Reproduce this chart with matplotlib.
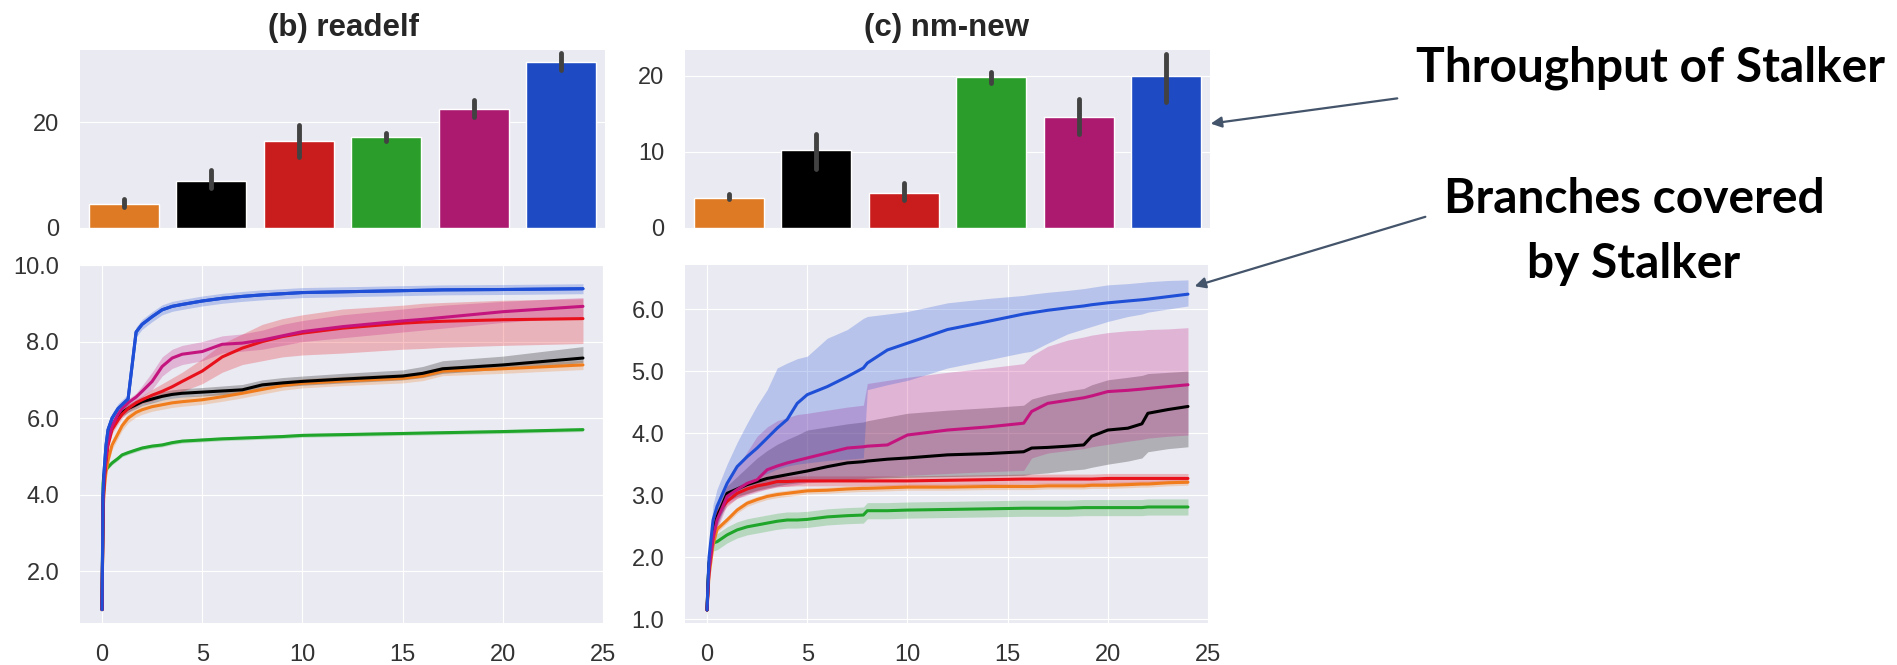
import numpy as np
import matplotlib.pyplot as plt
import seaborn as sns

sns.set_style("darkgrid")
plt.rcParams['font.family'] = ['Liberation Sans', 'DejaVu Sans']

W, H = 1897, 665

# ---- bar data (throughput) ----
bar_colors = ['#de7a23', '#000000', '#c91d1d', '#2a9d2a', '#ab1a6f', '#1e4bc3']
readelf_bar = [4.5, 8.9, 16.5, 17.2, 22.4, 31.3]
readelf_err_lo = [3.9, 7.6, 13.4, 16.5, 20.9, 29.8]
readelf_err_hi = [5.4, 10.9, 19.5, 18.0, 24.1, 33.1]
nm_bar = [3.95, 10.3, 4.65, 19.8, 14.6, 19.95]
nm_err_lo = [3.75, 7.7, 3.7, 19.1, 12.3, 16.6]
nm_err_hi = [4.45, 12.3, 5.95, 20.5, 16.9, 22.85]

# ---- coverage curves, readelf ----
line_colors = {'green': '#1fa52a', 'orange': '#f07c1c', 'black': '#000000',
               'red': '#e8101a', 'magenta': '#c4157f', 'blue': '#1f4fd6'}
t_b = [0, 0.05, 0.1, 0.2, 0.3, 0.5, 0.8, 1.0, 1.3, 1.7, 2, 2.5, 3, 3.5, 4, 5, 6, 7, 8, 9, 10, 12, 15, 16, 17, 20, 24]
b_blue = [1.0, 4.0, 4.6, 5.3, 5.7, 6.0, 6.25, 6.35, 6.5, 8.25, 8.45, 8.65, 8.83, 8.92, 8.97, 9.06, 9.13, 9.18, 9.22, 9.25, 9.28, 9.3, 9.33, 9.34, 9.35, 9.36, 9.38]
b_magenta = [1.0, 3.8, 4.4, 5.0, 5.4, 5.8, 6.1, 6.25, 6.4, 6.55, 6.7, 6.96, 7.35, 7.57, 7.67, 7.74, 7.93, 7.96, 8.04, 8.15, 8.26, 8.39, 8.54, 8.58, 8.63, 8.78, 8.92]
b_magenta_lo = [1.0, 3.7, 4.3, 4.9, 5.3, 5.7, 6.0, 6.15, 6.3, 6.45, 6.55, 6.75, 7.1, 7.3, 7.4, 7.5, 7.7, 7.75, 7.8, 7.9, 8.0, 8.1, 8.25, 8.3, 8.35, 8.5, 8.65]
b_magenta_hi = [1.0, 3.9, 4.5, 5.1, 5.5, 5.9, 6.2, 6.35, 6.5, 6.65, 6.85, 7.2, 7.6, 7.8, 7.9, 8.0, 8.15, 8.2, 8.3, 8.45, 8.55, 8.7, 8.85, 8.9, 8.95, 9.05, 9.15]
b_red = [1.0, 3.6, 4.3, 4.9, 5.3, 5.7, 5.95, 6.1, 6.25, 6.4, 6.48, 6.6, 6.7, 6.82, 6.96, 7.23, 7.6, 7.83, 8.0, 8.13, 8.22, 8.35, 8.48, 8.51, 8.53, 8.57, 8.6]
b_red_lo = [1.0, 3.5, 4.2, 4.8, 5.2, 5.6, 5.85, 6.0, 6.15, 6.3, 6.38, 6.45, 6.55, 6.6, 6.7, 6.9, 7.2, 7.4, 7.5, 7.6, 7.65, 7.7, 7.8, 7.82, 7.85, 7.9, 7.95]
b_red_hi = [1.0, 3.7, 4.4, 5.0, 5.4, 5.8, 6.05, 6.2, 6.35, 6.5, 6.58, 6.75, 6.9, 7.05, 7.2, 7.55, 7.95, 8.2, 8.45, 8.6, 8.7, 8.85, 8.95, 9.0, 9.02, 9.08, 9.12]
b_black = [1.0, 3.7, 4.4, 5.0, 5.4, 5.8, 6.05, 6.15, 6.25, 6.35, 6.43, 6.5, 6.57, 6.62, 6.65, 6.68, 6.71, 6.74, 6.87, 6.92, 6.96, 7.02, 7.1, 7.17, 7.29, 7.39, 7.57]
b_black_hi = [1.0, 3.8, 4.5, 5.1, 5.5, 5.9, 6.15, 6.27, 6.37, 6.47, 6.55, 6.62, 6.69, 6.74, 6.77, 6.8, 6.84, 6.88, 7.0, 7.06, 7.1, 7.17, 7.26, 7.35, 7.5, 7.62, 7.87]
b_black_lo = [1.0, 3.6, 4.3, 4.9, 5.3, 5.7, 5.95, 6.05, 6.15, 6.25, 6.33, 6.4, 6.47, 6.52, 6.55, 6.58, 6.61, 6.64, 6.76, 6.82, 6.86, 6.92, 7.0, 7.06, 7.17, 7.28, 7.45]
b_orange = [1.0, 3.5, 4.1, 4.6, 4.9, 5.3, 5.6, 5.8, 6.0, 6.15, 6.22, 6.3, 6.35, 6.4, 6.43, 6.48, 6.56, 6.65, 6.75, 6.85, 6.91, 6.97, 7.04, 7.1, 7.23, 7.29, 7.39]
b_green = [1.0, 4.3, 4.55, 4.65, 4.72, 4.83, 4.95, 5.04, 5.1, 5.17, 5.22, 5.27, 5.3, 5.36, 5.4, 5.43, 5.46, 5.48, 5.5, 5.52, 5.55, 5.57, 5.6, 5.61, 5.62, 5.65, 5.7]
b_spread = {'blue': 0.13, 'orange': 0.12, 'green': 0.05}

# ---- coverage curves, nm-new ----
t_c = [0, 0.05, 0.1, 0.3, 0.5, 1, 1.5, 2, 2.5, 3, 3.5, 4, 4.5, 5, 6, 7, 7.8, 8, 9, 10, 12, 14, 15.8, 16.2, 17, 18, 18.8, 19.2, 20, 21, 21.7, 22, 23, 24]
c_blue = [1.15, 1.6, 2.0, 2.6, 2.82, 3.19, 3.46, 3.62, 3.76, 3.92, 4.08, 4.22, 4.48, 4.62, 4.75, 4.91, 5.05, 5.13, 5.34, 5.45, 5.67, 5.8, 5.92, 5.94, 5.98, 6.02, 6.05, 6.07, 6.1, 6.13, 6.15, 6.16, 6.2, 6.24]
c_blue_hi = [1.15, 1.7, 2.2, 2.85, 3.1, 3.5, 3.85, 4.16, 4.45, 4.7, 5.05, 5.13, 5.2, 5.24, 5.53, 5.67, 5.85, 5.88, 5.92, 5.96, 6.1, 6.17, 6.22, 6.24, 6.27, 6.3, 6.33, 6.35, 6.39, 6.41, 6.43, 6.44, 6.46, 6.47]
c_blue_lo = [1.15, 1.5, 1.8, 2.35, 2.55, 2.9, 3.05, 3.2, 3.3, 3.35, 3.42, 3.47, 3.5, 3.52, 3.56, 3.58, 3.6, 4.7, 4.78, 4.85, 5.05, 5.18, 5.3, 5.32, 5.45, 5.6, 5.68, 5.72, 5.8, 5.88, 5.92, 5.95, 6.0, 6.05]
c_magenta = [1.15, 1.5, 1.8, 2.3, 2.6, 2.98, 3.09, 3.19, 3.25, 3.41, 3.47, 3.52, 3.56, 3.6, 3.68, 3.76, 3.78, 3.79, 3.81, 3.97, 4.05, 4.1, 4.16, 4.35, 4.48, 4.53, 4.57, 4.6, 4.67, 4.69, 4.71, 4.72, 4.75, 4.78]
c_magenta_hi = [1.15, 1.6, 1.9, 2.5, 2.8, 3.2, 3.45, 3.7, 3.95, 4.1, 4.2, 4.25, 4.3, 4.32, 4.37, 4.42, 4.45, 4.8, 4.85, 4.9, 4.98, 5.05, 5.12, 5.25, 5.4, 5.5, 5.55, 5.58, 5.62, 5.65, 5.66, 5.67, 5.68, 5.7]
c_magenta_lo = [1.15, 1.45, 1.7, 2.15, 2.45, 2.85, 2.95, 3.0, 3.05, 3.1, 3.13, 3.15, 3.17, 3.2, 3.22, 3.25, 3.27, 3.28, 3.3, 3.32, 3.35, 3.38, 3.4, 3.6, 3.68, 3.72, 3.75, 3.78, 3.82, 3.87, 3.9, 3.92, 3.95, 3.97]
c_black = [1.15, 1.6, 1.9, 2.4, 2.65, 3.03, 3.1, 3.17, 3.22, 3.27, 3.3, 3.33, 3.36, 3.39, 3.46, 3.52, 3.54, 3.55, 3.58, 3.6, 3.65, 3.67, 3.7, 3.76, 3.77, 3.79, 3.81, 3.95, 4.05, 4.08, 4.15, 4.32, 4.38, 4.43]
c_black_hi = [1.15, 1.7, 2.0, 2.55, 2.8, 3.15, 3.3, 3.45, 3.6, 3.72, 3.82, 3.9, 3.97, 4.05, 4.1, 4.15, 4.18, 4.2, 4.26, 4.32, 4.37, 4.41, 4.45, 4.55, 4.62, 4.68, 4.72, 4.78, 4.86, 4.9, 4.93, 4.96, 4.98, 5.0]
c_black_lo = [1.15, 1.5, 1.8, 2.25, 2.5, 2.9, 2.98, 3.03, 3.08, 3.12, 3.15, 3.18, 3.2, 3.22, 3.24, 3.25, 3.26, 3.27, 3.28, 3.29, 3.3, 3.31, 3.32, 3.34, 3.36, 3.4, 3.42, 3.45, 3.5, 3.55, 3.6, 3.7, 3.75, 3.78]
c_red = [1.15, 1.5, 1.8, 2.35, 2.7, 2.9, 3.03, 3.1, 3.15, 3.18, 3.22, 3.22, 3.23, 3.23, 3.23, 3.23, 3.23, 3.23, 3.23, 3.23, 3.24, 3.25, 3.26, 3.26, 3.26, 3.26, 3.26, 3.26, 3.27, 3.27, 3.27, 3.27, 3.27, 3.27]
c_orange = [1.15, 1.45, 1.7, 2.2, 2.45, 2.6, 2.76, 2.87, 2.93, 2.98, 3.01, 3.03, 3.05, 3.07, 3.08, 3.1, 3.11, 3.11, 3.12, 3.13, 3.13, 3.14, 3.14, 3.14, 3.15, 3.15, 3.15, 3.16, 3.16, 3.17, 3.18, 3.18, 3.2, 3.21]
c_green = [1.15, 1.6, 1.9, 2.23, 2.25, 2.36, 2.44, 2.49, 2.52, 2.55, 2.58, 2.6, 2.6, 2.61, 2.65, 2.67, 2.68, 2.75, 2.75, 2.76, 2.77, 2.78, 2.79, 2.79, 2.79, 2.79, 2.8, 2.8, 2.8, 2.8, 2.8, 2.81, 2.81, 2.81]
c_spread = {'red': 0.08, 'orange': 0.05, 'green': 0.13}

tick_color = '#333333'


def axes_px(left, top, right, bottom):
    return fig.add_axes([left / W, 1 - bottom / H, (right - left) / W, (bottom - top) / H])


def style(ax):
    ax.tick_params(labelsize=17, colors=tick_color, pad=15, length=0)
    for s in ax.spines.values():
        s.set_visible(False)


def bars(ax, vals, lo, hi, ymax, yticks):
    x = np.arange(len(vals))
    ax.bar(x, vals, width=0.8, color=bar_colors, zorder=2)
    ax.vlines(x, lo, hi, colors='#424242', linewidth=3.5, capstyle='round', zorder=3)
    ax.set_xlim(-0.5, len(vals) - 0.5)
    ax.set_ylim(0, ymax)
    ax.set_xticks([])
    ax.set_yticks(yticks)
    ax.grid(axis='x', visible=False)
    style(ax)


def curve(ax, t, mean, lo, hi, name):
    c = line_colors[name]
    ax.fill_between(t, lo, hi, color=c, alpha=0.25, lw=0, zorder=2)
    ax.plot(t, mean, color=c, lw=2.2, zorder=3)


fig = plt.figure(figsize=(W / 100, H / 100), dpi=100)

ax_bb = axes_px(80, 50, 605, 228)
ax_cb = axes_px(685, 50, 1210, 228)
ax_bl = axes_px(80, 265, 603, 623)
ax_cl = axes_px(685, 265, 1208, 623)

bars(ax_bb, readelf_bar, readelf_err_lo, readelf_err_hi, 33.6, [0, 20])
bars(ax_cb, nm_bar, nm_err_lo, nm_err_hi, 23.4, [0, 10, 20])

# readelf curves
for name, mean in [('green', b_green), ('orange', b_orange), ('blue', b_blue)]:
    m = np.array(mean)
    curve(ax_bl, t_b, m, m - b_spread[name], m + b_spread[name], name)
curve(ax_bl, t_b, b_black, b_black_lo, b_black_hi, 'black')
curve(ax_bl, t_b, b_red, b_red_lo, b_red_hi, 'red')
curve(ax_bl, t_b, b_magenta, b_magenta_lo, b_magenta_hi, 'magenta')
ax_bl.plot(t_b, b_blue, color=line_colors['blue'], lw=2.2, zorder=4)

# nm-new curves
for name, mean in [('green', c_green), ('orange', c_orange), ('red', c_red)]:
    m = np.array(mean)
    curve(ax_cl, t_c, m, m - c_spread[name], m + c_spread[name], name)
curve(ax_cl, t_c, c_black, c_black_lo, c_black_hi, 'black')
curve(ax_cl, t_c, c_magenta, c_magenta_lo, c_magenta_hi, 'magenta')
curve(ax_cl, t_c, c_blue, c_blue_lo, c_blue_hi, 'blue')

for ax, ylim, yt in [(ax_bl, (0.65, 10.0), [2, 4, 6, 8, 10]),
                     (ax_cl, (0.94, 6.71), [1, 2, 3, 4, 5, 6])]:
    ax.set_xlim(-1.1, 25)
    ax.set_ylim(*ylim)
    ax.set_xticks([0, 5, 10, 15, 20, 25])
    ax.set_yticks(yt)
    ax.set_yticklabels([f'{v:.1f}' for v in yt])
    style(ax)

fig.text(344 / W, 1 - 28 / H, '(b) readelf', ha='center', va='center',
         fontsize=22.5, fontweight='bold', color='#262626')
fig.text(947 / W, 1 - 28 / H, '(c) nm-new', ha='center', va='center',
         fontsize=22.5, fontweight='bold', color='#262626')

# callouts
note_font = dict(fontsize=34.5, fontweight='bold', color='black', family=['Lato', 'DejaVu Sans'])
fig.text(1651 / W, 1 - 82 / H, 'Throughput of Stalker', ha='center', va='baseline', **note_font)
fig.text(1634 / W, 1 - 213 / H, 'Branches covered', ha='center', va='baseline', **note_font)
fig.text(1634 / W, 1 - 278 / H, 'by Stalker', ha='center', va='baseline', **note_font)

# arrows drawn from the last axes so nothing paints over their heads
arrow = dict(arrowstyle='-|>', color='#44546a', lw=1.6, mutation_scale=16)
for head, tail in [((1208, H - 124), (1400, H - 98)),
                   ((1192, H - 287), (1428, H - 216))]:
    a = ax_cl.annotate('', xy=head, xycoords='figure pixels',
                       xytext=tail, textcoords='figure pixels',
                       arrowprops=arrow, annotation_clip=False)
    a.set_zorder(10)

fig.savefig('out.png', dpi=100)
